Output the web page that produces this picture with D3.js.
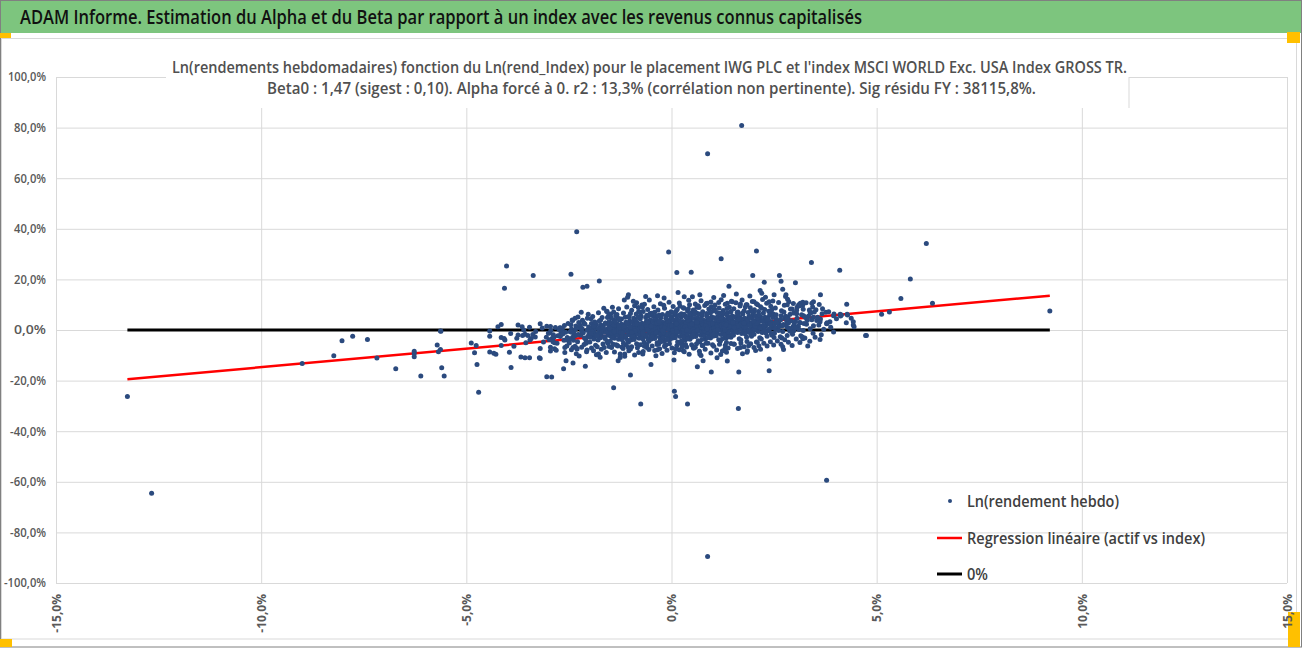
<html>
<head>
<meta charset="utf-8">
<title>ADAM Informe - Alpha et Beta</title>
<script src="https://d3js.org/d3.v7.min.js"></script>
<style>
  body { margin: 0; background: #fff; }
  text { font-family: "Open Sans", "Liberation Sans Narrow", "DejaVu Sans Condensed", sans-serif; }
</style>
</head>
<body>
<script>
// texts
var headerTitle = "ADAM Informe. Estimation du Alpha et du Beta par rapport à un index avec les revenus connus capitalisés";
var chartTitle1 = "Ln(rendements hebdomadaires) fonction du Ln(rend_Index) pour le placement IWG PLC et l'index MSCI WORLD Exc. USA Index GROSS TR.";
var chartTitle2 = "Beta0 : 1,47 (sigest : 0,10). Alpha forcé à 0. r2 : 13,3% (corrélation non pertinente). Sig résidu FY : 38115,8%.";
var legendLabels = ["Ln(rendement hebdo)", "Regression linéaire (actif vs index)", "0%"];

// axes
var xTicks = [-15, -10, -5, 0, 5, 10, 15];
var yTicks = [-100, -80, -60, -40, -20, 0, 20, 40, 60, 80, 100];

// regression slope (alpha forced to 0)
var beta0 = 1.47;

// weekly log returns, [index %, asset %]
var outliers = [
  [-13.26,-26.3],[-12.67,-64.5],[1.71,80.8],[0.88,69.7],[0.88,-89.5],[3.78,-59.4],
  [6.21,34.2],[5.82,20.2],[5.59,12.5],[6.36,10.6],[5.12,6.2],[5.31,7.1],[4.75,-2.2],[9.22,7.5],
  [-2.31,38.8],[-4.02,25.3],[-4.07,16.5],[-3.37,21.5],[-2.45,22.0],[-2.16,16.9],[-2.06,17.3],[-1.76,19.4],
  [-0.07,30.8],[0.13,22.7],[0.48,22.8],[1.21,28.2],[2.07,31.2],[1.98,21.5],[2.63,21.5],[2.67,19.3],[2.71,16.1],
  [2.26,18.9],[2.16,15.6],[2.2,14.5],[1.4,17.3],[3.02,18.7],[3.41,26.7],[4.1,23.6],[3.63,13.9],[4.27,10.2],
  [4.73,-2.2],[4.43,3.3],[4.43,2.0],[3.96,6.3],[4.12,5.5],[4.29,5.9],[3.78,2.5],[3.86,3.3],[3.2,11.0],[3.2,9.9],
  [3.1,9.6],[2.79,13.9],
  [-4.7,-24.6],[-4.74,-13.6],[-3.91,-14.8],[-3.04,-18.5],[-2.92,-18.6],[-2.63,-15.3],[-2.1,-14.3],[-1.41,-22.8],
  [-1.0,-17.8],[-0.75,-29.2],[-0.5,-13.6],[0.07,-24.2],[0.1,-26.3],[0.39,-29.2],[0.63,-14.5],[0.97,-16.6],
  [1.11,-11.0],[1.36,-12.3],[1.63,-31.0],[1.64,-16.6],[2.38,-11.5],[2.38,-16.1],[2.71,-6.6],[2.73,-7.7],[3.32,-6.3],[3.2,-3.5]
];

var farLeft = [
  [-9.0,-13.2],[-8.23,-10.2],[-8.03,-4.2],[-7.77,-2.5],[-7.41,-3.8],[-7.18,-11.1],[-6.72,-15.3],
  [-6.27,-8.4],[-6.27,-9.3],[-6.27,-10.6],[-6.11,-18.2],[-5.71,-5.9],[-5.68,-8.6],[-5.63,-7.7],[-5.62,-0.5],
  [-5.6,-14.9],[-5.54,-18.2],[-5.63,-0.4],
  [-4.88,-5.1],[-4.8,-9.0],[-4.76,-6.1],[-4.43,-8.7],[-4.33,-9.2],[-4.28,-9.6],[-4.43,-0.4],[-4.43,-2.5],
  [-4.23,1.3],[-4.15,2.2],[-4.15,-6.1],[-4.15,-3.0],[-4.08,-3.4],[-4.06,-4.0],[-3.95,-8.8],[-3.74,2.0],
  [-3.64,1.3],[-3.6,0.0],[-3.74,-2.0],[-3.57,-1.7],[-3.5,-2.2],[-3.45,-4.0],[-3.67,-10.7],[-3.57,-11.0],
  [-3.46,-11.0],[-3.42,-3.4],[-3.32,-2.8],[-3.2,2.5],[-3.22,-11.0],[-3.2,-11.3],[-3.04,1.5],[-3.0,-1.3],
  [-2.95,-8.3],[-2.95,-6.8],[-2.9,-3.7],[-2.85,-5.0],[-2.7,0.8],[-2.7,-1.8],[-2.6,-6.9],[-2.6,-8.9],
  [-2.57,-12.2],[-2.42,4.0],[-2.55,-4.0],[-2.4,-6.9],[-2.3,-7.5],[-2.4,-13.0],[-2.08,-5.2],[-2.06,-7.9],
  [-1.78,-9.5],[-1.74,-10.8],
  [-3.92,-1.4],[-3.55,-5.0],[-3.31,-0.6],[-3.77,-3.3],[-3.12,-4.7],[-3.46,1.1],[-3.2,-7.3],[-3.63,-2.2],
  [-3.05,-2.9],[-3.84,-6.4],[-3.38,-1.8],[-3.15,0.8]
];

var midScatter = [
  [-1.65,8.6],[-1.57,7.3],[-1.48,6.3],[-1.4,4.0],[-1.3,4.5],[-1.15,11.9],[-1.05,13.9],[-1.07,12.9],
  [-0.85,10.8],[-0.72,9.9],[-0.71,9.0],[-0.63,13.2],[-0.54,11.9],[-0.34,13.5],[-0.8,7.3],[-0.52,6.5],[-0.44,5.3],
  [-1.3,-12.2],[-1.25,-10.9],[-1.14,-9.5],[-1.05,-6.9],[-0.7,-9.5],[-0.6,-6.9],[-0.34,-7.8],[-0.28,-4.2],
  [0.06,-11.9],[0.31,13.1],[0.51,13.1],[0.3,8.6],[0.62,9.0],[0.87,10.6],[0.97,9.2],[0.69,-9.5],[0.77,-12.2],
  [0.53,-6.9],[0.29,-8.2],[1.3,-7.5],[1.34,-8.8],[1.52,-5.5],[1.68,-6.9],[1.84,-8.8],[1.88,-6.2],[2.07,-4.7],
  [2.13,-6.2],[2.5,-3.0],[2.82,-2.2],[2.98,-0.3],[2.82,1.0],[2.88,-0.3],[3.14,2.9],[3.3,4.3],[3.46,5.0],
  [3.63,4.3],[3.79,2.9],[3.95,5.6],[4.11,6.2],[4.28,6.2],[3.22,5.6],[3.38,7.0],[3.3,4.6],[3.06,9.0],[3.1,10.0],
  [3.14,10.6],[3.46,11.2],[3.42,10.6],[2.86,11.2],[2.82,10.0],[2.78,13.2],[2.5,13.9],[2.38,11.2],[2.1,10.0],
  [2.01,11.2],[1.84,10.0],[1.68,10.3],[1.48,11.2],[1.36,10.6],
  [-0.18,12.6],[0.16,14.8],[0.69,13.9],[1.03,12.8],[1.58,14.2],[1.91,13.4],[2.29,12.9],[-0.93,11.4],[0.42,11.8],[1.27,13.6]
];

var upperFringe = [
  [-2.41,3.8],[-2.28,5.1],[-2.14,2.9],[-2.03,6.2],[-1.96,4.4],[-1.87,3.2],[-1.78,6.8],[-1.69,4.9],[-1.61,2.7],[-1.53,5.8],
  [-2.35,4.6],[-2.2,7.0],[-1.92,5.3],[-1.73,3.9],[-1.58,7.4],
  [-1.47,4.8],[-1.41,7.1],[-1.36,5.6],[-1.29,8.4],[-1.22,4.3],[-1.17,6.7],[-1.09,9.1],[-1.03,5.2],[-0.97,7.8],[-0.92,4.6],
  [-0.86,6.3],[-0.81,8.9],[-0.74,5.5],[-0.69,7.3],[-0.63,4.9],[-0.58,8.1],[-0.53,6.0],[-1.33,6.1],[-1.13,5.0],[-0.9,9.6],
  [-0.77,6.9],[-0.6,5.8],[-1.44,9.0],[-1.0,6.5],[-0.66,10.2],
  [-0.48,6.6],[-0.43,9.2],[-0.38,5.4],[-0.33,7.9],[-0.27,10.4],[-0.22,6.1],[-0.17,8.6],[-0.12,5.7],[-0.06,11.0],[-0.01,7.2],
  [0.04,9.3],[0.09,5.9],[0.14,8.1],[0.19,10.7],[0.24,6.4],[0.29,8.8],[0.34,5.5],[0.39,7.6],[0.44,10.0],[0.49,6.8],
  [-0.41,7.0],[-0.3,5.9],[-0.19,9.8],[-0.09,6.6],[0.01,5.3],[0.11,7.4],[0.21,9.4],[0.31,6.2],[0.41,8.4],[0.46,5.2],
  [0.53,7.9],[0.58,10.3],[0.62,6.6],[0.67,8.9],[0.72,11.6],[0.76,7.2],[0.81,9.7],[0.86,6.5],[0.91,8.3],[0.96,11.1],
  [1.01,7.5],[1.06,9.9],[1.11,6.9],[1.16,8.7],[1.21,12.0],[1.26,7.7],[1.31,10.2],[1.36,6.8],[1.41,9.0],[1.46,11.4],
  [0.55,6.2],[0.65,9.6],[0.75,6.0],[0.85,10.5],[0.95,7.0],[1.05,8.2],[1.15,10.9],[1.25,6.4],[1.35,8.5],[1.45,7.3],
  [1.52,8.4],[1.57,10.8],[1.62,7.1],[1.67,9.5],[1.72,11.9],[1.77,7.6],[1.82,10.0],[1.87,6.9],[1.92,8.8],[1.97,11.3],
  [2.02,8.0],[2.07,10.4],[2.12,7.3],[2.17,9.2],[2.22,12.1],[2.27,8.1],[2.32,10.6],[2.37,7.4],[2.42,9.4],[2.47,11.5],
  [1.6,6.8],[1.8,9.1],[2.0,7.0],[2.2,8.6],[2.4,6.9],
  [2.53,8.7],[2.61,10.9],[2.68,7.6],[2.75,9.8],[2.83,12.2],[2.9,8.3],[2.97,10.5],[3.05,7.8],[3.13,9.6],[3.21,8.2],
  [3.28,10.8],[3.36,7.9],[3.44,9.1],[3.52,8.0],[3.6,10.1],[3.68,8.4],[3.76,7.0]
];

var lowerFringe = [
  [-2.44,-7.8],[-2.32,-9.4],[-2.19,-6.8],[-2.07,-8.6],[-1.95,-7.1],[-1.83,-9.8],[-1.71,-7.6],[-1.59,-8.9],[-1.52,-6.5],[-2.25,-10.3],
  [-1.9,-8.2],[-1.64,-6.9],
  [-1.46,-6.9],[-1.39,-8.7],[-1.32,-6.1],[-1.25,-9.5],[-1.18,-7.3],[-1.11,-5.9],[-1.04,-8.2],[-0.97,-6.6],[-0.9,-9.9],[-0.83,-7.0],
  [-0.76,-5.8],[-0.69,-8.5],[-0.62,-6.4],[-0.55,-7.7],[-1.42,-5.6],[-1.21,-6.7],[-1.0,-7.5],[-0.8,-8.9],[-0.6,-5.7],[-1.14,-10.4],
  [-0.47,-6.3],[-0.41,-8.1],[-0.35,-5.7],[-0.29,-7.4],[-0.23,-9.3],[-0.17,-6.5],[-0.11,-8.0],[-0.05,-5.4],[0.01,-7.1],[0.07,-9.0],
  [0.13,-6.2],[0.19,-7.8],[0.25,-5.3],[0.31,-8.6],[0.37,-6.7],[0.43,-9.6],[0.49,-5.8],[-0.38,-10.2],[-0.14,-5.9],[0.1,-7.5],[0.34,-6.0],
  [0.54,-7.2],[0.61,-5.4],[0.68,-8.4],[0.75,-6.1],[0.82,-7.6],[0.89,-5.2],[0.96,-9.1],[1.03,-6.4],[1.1,-7.9],[1.17,-5.6],
  [1.24,-8.3],[1.31,-6.0],[1.38,-7.1],[1.45,-5.3],[0.72,-10.1],[1.0,-5.8],[1.2,-9.7],[0.58,-6.8],
  [1.53,-5.6],[1.61,-7.3],[1.69,-5.1],[1.77,-6.6],[1.85,-8.2],[1.93,-5.4],[2.01,-6.9],[2.09,-4.8],[2.17,-7.6],[2.25,-5.2],
  [2.33,-6.3],[2.41,-4.6],[2.49,-5.9],[1.73,-9.4],[2.05,-8.1],
  [2.58,-4.3],[2.67,-5.6],[2.76,-3.9],[2.85,-4.8],[2.94,-6.1],[3.04,-3.6],[3.13,-4.9],[3.25,-3.2],[3.37,-4.4],[3.5,-2.9],[3.62,-3.8]
];

var core = [
  [-2.97,-1.2],[-2.62,-4.1],[-2.83,1.0],[-2.71,-2.6],[-2.94,-0.2],[-2.55,-6.3],[-2.88,-1.9],[-2.66,0.4],[-2.79,-5.2],[-2.52,2.6],
  [-2.91,-3.4],[-2.58,-0.9],[-2.85,-7.4],[-2.74,0.2],[-2.98,-3.9],[-2.61,1.8],[-2.77,-2.3],[-2.89,-4.6],[-2.54,-3.0],[-2.69,-1.0],
  [-2.95,1.4],[-2.81,-8.0],[-2.65,-1.6],[-2.72,0.9],[-2.86,-2.8],
  [-2.47,-0.7],[-2.09,-3.8],[-2.33,1.6],[-2.21,-2.1],[-2.44,0.4],[-2.13,-5.7],[-2.38,-1.3],[-2.02,1.2],[-2.29,-4.6],[-2.17,3.9],
  [-2.41,-2.9],[-2.06,-0.1],[-2.35,-6.4],[-2.24,0.9],[-2.48,-3.5],[-2.11,2.4],[-2.27,-1.8],[-2.39,-4.1],[-2.04,-2.6],[-2.19,-0.4],
  [-2.45,2.1],[-2.31,-7.2],[-2.15,-1.1],[-2.22,1.8],[-2.36,-2.4],[-2.08,-4.9],[-2.43,-0.9],[-2.26,3.0],[-2.12,-3.2],[-2.34,0.2],
  [-2.01,-1.6],[-2.49,-5.1],[-2.18,0.6],[-2.3,-2.0],[-2.05,4.6],
  [-1.97,-0.3],[-1.62,-3.4],[-1.83,2.2],[-1.71,-1.5],[-1.94,0.9],[-1.55,-5.2],[-1.88,-0.8],[-1.66,1.7],[-1.79,-4.0],[-1.52,3.3],
  [-1.91,-2.4],[-1.58,0.3],[-1.85,-6.0],[-1.74,1.2],[-1.98,-2.9],[-1.61,2.8],[-1.77,-1.2],[-1.89,-3.6],[-1.54,-2.1],[-1.69,0.1],
  [-1.95,2.6],[-1.81,-6.6],[-1.65,-0.6],[-1.72,2.0],[-1.86,-1.9],[-1.57,-4.4],[-1.93,-0.5],[-1.76,3.6],[-1.63,-2.7],[-1.84,0.7],
  [-1.51,-1.1],[-1.99,-4.7],[-1.68,1.0],[-1.8,-1.7],[-1.56,4.9],[-1.73,-3.1],[-1.9,1.5],[-1.6,-0.2],[-1.82,-2.3],[-1.53,1.9],
  [-1.96,-1.4],[-1.67,-5.5],[-1.78,0.5],[-1.59,-0.9],[-1.87,3.0],
  [-1.48,-0.1],[-1.12,-3.0],[-1.33,2.5],[-1.21,-1.2],[-1.44,1.1],[-1.05,-4.8],[-1.38,-0.5],[-1.16,2.0],[-1.29,-3.7],[-1.02,3.6],
  [-1.41,-2.0],[-1.08,0.6],[-1.35,-5.8],[-1.24,1.5],[-1.47,-2.6],[-1.11,3.1],[-1.27,-0.9],[-1.39,-3.3],[-1.04,-1.8],[-1.19,0.4],
  [-1.45,2.9],[-1.31,-6.3],[-1.15,-0.3],[-1.22,2.3],[-1.36,-1.6],[-1.07,-4.1],[-1.43,-0.2],[-1.26,4.0],[-1.13,-2.4],[-1.34,1.0],
  [-1.01,-0.8],[-1.49,-4.4],[-1.18,1.3],[-1.3,-1.4],[-1.06,5.2],[-1.23,-2.8],[-1.4,1.8],[-1.1,0.1],[-1.32,-2.0],[-1.03,2.2],
  [-1.46,-1.1],[-1.17,-5.2],[-1.28,0.8],[-1.09,-0.6],[-1.37,3.3],[-1.2,-3.9],[-1.42,0.0],[-1.14,1.6],[-1.25,-1.0],[-1.5,0.7],
  [-1.0,-2.2],[-1.34,-0.4],[-1.08,2.7],[-1.44,-3.0],[-1.19,-1.3],[-1.29,1.9],[-1.05,0.3],[-1.39,-0.7],[-1.12,-2.6],[-1.27,4.4],
  [-0.98,0.3],[-0.62,-2.6],[-0.83,2.9],[-0.71,-0.8],[-0.94,1.5],[-0.55,-4.4],[-0.88,-0.1],[-0.66,2.4],[-0.79,-3.3],[-0.52,4.0],
  [-0.91,-1.6],[-0.58,1.0],[-0.85,-5.4],[-0.74,1.9],[-0.97,-2.2],[-0.61,3.5],[-0.77,-0.5],[-0.89,-2.9],[-0.54,-1.4],[-0.69,0.8],
  [-0.95,3.3],[-0.81,-5.9],[-0.65,0.1],[-0.72,2.7],[-0.86,-1.2],[-0.57,-3.7],[-0.93,0.2],[-0.76,4.4],[-0.63,-2.0],[-0.84,1.4],
  [-0.51,-0.4],[-0.99,-4.0],[-0.68,1.7],[-0.8,-1.0],[-0.56,5.6],[-0.73,-2.4],[-0.9,2.2],[-0.6,0.5],[-0.82,-1.6],[-0.53,2.6],
  [-0.96,-0.7],[-0.67,-4.8],[-0.78,1.2],[-0.59,-0.2],[-0.87,3.7],[-0.7,-3.5],[-0.92,0.4],[-0.64,2.0],[-0.75,-0.6],[-1.0,1.1],
  [-0.5,-1.8],[-0.84,0.0],[-0.58,3.1],[-0.94,-2.6],[-0.69,-0.9],[-0.79,2.3],[-0.55,0.7],[-0.89,-0.3],[-0.62,-2.2],[-0.77,4.8],
  [-0.66,-6.4],[-0.97,-1.0],[-0.73,0.9],[-0.52,-3.1],[-0.85,2.5],[-0.6,1.4],[-0.91,-3.8],[-0.7,-1.5],[-0.57,0.2],[-0.82,5.1],
  [-0.48,0.7],[-0.12,-2.2],[-0.33,3.3],[-0.21,-0.4],[-0.44,1.9],[-0.05,-4.0],[-0.38,0.3],[-0.16,2.8],[-0.29,-2.9],[-0.02,4.4],
  [-0.41,-1.2],[-0.08,1.4],[-0.35,-5.0],[-0.24,2.3],[-0.47,-1.8],[-0.11,3.9],[-0.27,-0.1],[-0.39,-2.5],[-0.04,-1.0],[-0.19,1.2],
  [-0.45,3.7],[-0.31,-5.5],[-0.15,0.5],[-0.22,3.1],[-0.36,-0.8],[-0.07,-3.3],[-0.43,0.6],[-0.26,4.8],[-0.13,-1.6],[-0.34,1.8],
  [-0.01,0.0],[-0.49,-3.6],[-0.18,2.1],[-0.3,-0.6],[-0.06,6.0],[-0.23,-2.0],[-0.4,2.6],[-0.1,0.9],[-0.32,-1.2],[-0.03,3.0],
  [-0.46,-0.3],[-0.17,-4.4],[-0.28,1.6],[-0.09,0.2],[-0.37,4.1],[-0.2,-3.1],[-0.42,0.8],[-0.14,2.4],[-0.25,-0.2],[-0.5,1.5],
  [0.0,-1.4],[-0.34,0.4],[-0.08,3.5],[-0.44,-2.2],[-0.19,-0.5],[-0.29,2.7],[-0.05,1.1],[-0.39,0.1],[-0.12,-1.8],[-0.27,5.2],
  [-0.16,-6.0],[-0.47,-0.6],[-0.23,1.3],[-0.02,-2.7],[-0.35,2.9],[-0.1,1.8],[-0.41,-3.4],[-0.2,-1.1],[-0.07,0.6],[-0.32,5.5],
  [-0.26,-4.6],[-0.14,4.6],[-0.45,-1.5],[-0.04,2.0],[-0.37,-0.9],[-0.21,0.0],[-0.11,-3.8],[-0.3,3.4],[-0.48,-2.8],[-0.17,1.0],
  [0.02,1.0],[0.38,-1.9],[0.17,3.6],[0.29,-0.1],[0.06,2.2],[0.45,-3.7],[0.12,0.6],[0.34,3.1],[0.21,-2.6],[0.48,4.7],
  [0.09,-0.9],[0.42,1.7],[0.15,-4.7],[0.26,2.6],[0.03,-1.5],[0.39,4.2],[0.23,0.2],[0.11,-2.2],[0.46,-0.7],[0.31,1.5],
  [0.05,4.0],[0.19,-5.2],[0.35,0.8],[0.28,3.4],[0.14,-0.5],[0.43,-3.0],[0.07,0.9],[0.24,5.1],[0.37,-1.3],[0.16,2.1],
  [0.49,0.3],[0.01,-3.3],[0.32,2.4],[0.2,-0.3],[0.44,6.3],[0.27,-1.7],[0.1,2.9],[0.4,1.2],[0.18,-0.9],[0.47,3.3],
  [0.04,0.0],[0.33,-4.1],[0.22,1.9],[0.41,0.5],[0.13,4.4],[0.3,-2.8],[0.08,1.1],[0.36,2.7],[0.25,0.1],[0.0,1.8],
  [0.5,-1.1],[0.16,0.7],[0.42,3.8],[0.06,-1.9],[0.31,-0.2],[0.21,3.0],[0.45,1.4],[0.11,0.4],[0.38,-1.5],[0.23,5.5],
  [0.34,-5.7],[0.03,-0.3],[0.27,1.6],[0.48,-2.4],[0.15,3.2],[0.4,2.1],[0.09,-3.1],[0.3,-0.8],[0.43,0.9],[0.18,5.8],
  [0.24,-4.3],[0.36,4.9],[0.05,-1.2],[0.46,2.3],[0.13,-0.6],[0.29,0.3],[0.39,-3.5],[0.2,3.7],[0.02,-2.5],[0.33,1.3],
  [0.07,6.8],[0.44,-0.4],[0.26,-6.6],[0.12,2.5],[0.37,0.0],
  [0.52,1.5],[0.88,-1.4],[0.67,4.1],[0.79,0.4],[0.56,2.7],[0.95,-3.2],[0.62,1.1],[0.84,3.6],[0.71,-2.1],[0.98,5.2],
  [0.59,-0.4],[0.92,2.2],[0.65,-4.2],[0.76,3.1],[0.53,-1.0],[0.89,4.7],[0.73,0.7],[0.61,-1.7],[0.96,-0.2],[0.81,2.0],
  [0.55,4.5],[0.69,-4.7],[0.85,1.3],[0.78,3.9],[0.64,0.0],[0.93,-2.5],[0.57,1.4],[0.74,5.6],[0.87,-0.8],[0.66,2.6],
  [0.99,0.8],[0.51,-2.8],[0.82,2.9],[0.7,0.2],[0.94,6.8],[0.77,-1.2],[0.6,3.4],[0.9,1.7],[0.68,-0.4],[0.97,3.8],
  [0.54,0.5],[0.83,-3.6],[0.72,2.4],[0.91,1.0],[0.63,4.9],[0.8,-2.3],[0.58,1.6],[0.86,3.2],[0.75,0.6],[0.5,2.3],
  [1.0,-0.6],[0.66,1.2],[0.92,4.3],[0.56,-1.4],[0.81,0.3],[0.71,3.5],[0.95,1.9],[0.61,0.9],[0.88,-1.0],[0.73,6.0],
  [0.84,-5.2],[0.53,0.2],[0.77,2.1],[0.98,-1.9],[0.65,3.7],[0.9,2.6],[0.59,-2.6],[0.8,-0.3],[0.93,1.4],[0.68,6.3],
  [0.74,-3.8],[0.86,5.4],[0.55,-0.7],[0.96,2.8],[0.63,-0.1],[0.79,0.8],[0.89,-3.0],[0.7,4.2],[0.52,-2.0],[0.83,1.8],
  [0.57,7.3],[0.94,0.1],[0.76,-6.1],[0.62,3.0],[0.87,0.5],
  [1.02,1.8],[1.38,-1.1],[1.17,4.4],[1.29,0.7],[1.06,3.0],[1.45,-2.9],[1.12,1.4],[1.34,3.9],[1.21,-1.8],[1.48,5.5],
  [1.09,-0.1],[1.42,2.5],[1.15,-3.9],[1.26,3.4],[1.03,-0.7],[1.39,5.0],[1.23,1.0],[1.11,-1.4],[1.46,0.1],[1.31,2.3],
  [1.05,4.8],[1.19,-4.4],[1.35,1.6],[1.28,4.2],[1.14,0.3],[1.43,-2.2],[1.07,1.7],[1.24,5.9],[1.37,-0.5],[1.16,2.9],
  [1.49,1.1],[1.01,-2.5],[1.32,3.2],[1.2,0.5],[1.44,7.1],[1.27,-0.9],[1.1,3.7],[1.4,2.0],[1.18,-0.1],[1.47,4.1],
  [1.04,0.8],[1.33,-3.3],[1.22,2.7],[1.41,1.3],[1.13,5.2],[1.3,-2.0],[1.08,1.9],[1.36,3.5],[1.25,0.9],[1.0,2.6],
  [1.5,-0.3],[1.16,1.5],[1.42,4.6],[1.06,-1.1],[1.31,0.6],[1.21,3.8],[1.45,2.2],[1.11,1.2],[1.38,-0.7],[1.23,6.3],
  [1.34,-4.9],[1.03,0.5],[1.27,2.4],[1.48,-1.6],[1.15,4.0],[1.4,2.9],[1.09,-2.3],[1.3,0.0],[1.43,1.7],[1.18,6.6],
  [1.24,-3.5],[1.36,5.7],[1.05,-0.4],[1.46,3.1],[1.13,0.2],[1.29,1.1],[1.39,-2.7],[1.2,4.5],[1.02,-1.7],[1.33,2.1],
  [1.52,2.2],[1.88,-0.7],[1.67,4.8],[1.79,1.1],[1.56,3.4],[1.95,-2.5],[1.62,1.8],[1.84,4.3],[1.71,-1.4],[1.98,5.9],
  [1.59,0.3],[1.92,2.9],[1.65,-3.5],[1.76,3.8],[1.53,-0.3],[1.89,5.4],[1.73,1.4],[1.61,-1.0],[1.96,0.5],[1.81,2.7],
  [1.55,5.2],[1.69,-4.0],[1.85,2.0],[1.78,4.6],[1.64,0.7],[1.93,-1.8],[1.57,2.1],[1.74,6.3],[1.87,-0.1],[1.66,3.3],
  [1.99,1.5],[1.51,-2.1],[1.82,3.6],[1.7,0.9],[1.94,7.5],[1.77,-0.5],[1.6,4.1],[1.9,2.4],[1.68,0.3],[1.97,4.5],
  [1.54,1.2],[1.83,-2.9],[1.72,3.1],[1.91,1.7],[1.63,5.6],[1.8,-1.6],[1.58,2.3],[1.86,3.9],[1.75,1.3],[1.5,3.0],
  [2.0,0.1],[1.66,1.9],[1.92,5.0],[1.56,-0.7],[1.81,1.0],[1.71,4.2],[1.95,2.6],[1.61,1.6],[1.88,-0.3],[1.73,6.7],
  [1.84,-4.5],[1.53,0.9],[1.77,2.8],[1.98,-1.2],[1.65,4.4],
  [2.02,2.6],[2.38,-0.3],[2.17,5.2],[2.29,1.5],[2.06,3.8],[2.45,-2.1],[2.12,2.2],[2.34,4.7],[2.21,-1.0],[2.48,6.3],
  [2.09,0.7],[2.42,3.3],[2.15,-3.1],[2.26,4.2],[2.03,0.1],[2.39,5.8],[2.23,1.8],[2.11,-0.6],[2.46,0.9],[2.31,3.1],
  [2.05,5.6],[2.19,-3.6],[2.35,2.4],[2.28,5.0],[2.14,1.1],[2.43,-1.4],[2.07,2.5],[2.24,6.7],[2.37,0.3],[2.16,3.7],
  [2.49,1.9],[2.01,-1.7],[2.32,4.0],[2.2,1.3],[2.44,7.9],[2.27,-0.1],[2.1,4.5],[2.4,2.8],[2.18,0.7],[2.47,4.9],
  [2.04,1.6],[2.33,-2.5],[2.22,3.5],[2.41,2.1],[2.13,6.0],[2.3,-1.2],[2.08,2.7],[2.36,4.3],[2.25,1.7],[2.0,3.4],
  [2.52,3.0],[2.88,0.1],[2.67,5.6],[2.79,1.9],[2.56,4.2],[2.95,-1.7],[2.62,2.6],[2.84,5.1],[2.71,-0.6],[2.98,6.7],
  [2.59,1.1],[2.92,3.7],[2.65,-2.7],[2.76,4.6],[2.53,0.5],[2.89,6.2],[2.73,2.2],[2.61,-0.2],[2.96,1.3],[2.81,3.5],
  [2.55,6.0],[2.69,-3.2],[2.85,2.8],[2.78,5.4],[2.64,1.5],[2.93,-1.0],[2.57,2.9],[2.74,7.1],[2.87,0.7],[2.66,4.1],
  [2.99,2.3],[2.51,-1.3],[2.82,4.4],[2.7,1.7],[2.94,8.3],
  [3.02,3.4],[3.38,0.5],[3.17,6.0],[3.29,2.3],[3.06,4.6],[3.45,-1.3],[3.12,3.0],[3.34,5.5],[3.21,-0.2],[3.48,7.1],
  [3.09,1.5],[3.42,4.1],[3.15,-2.3],[3.26,5.0],[3.03,0.9],[3.39,6.6],[3.23,2.6],[3.11,0.2],[3.46,1.7],[3.31,3.9],
  [3.05,6.4],[3.19,-2.8],
  [3.54,3.8],[3.88,1.1],[3.67,6.4],[3.79,2.6],[3.56,5.0],[3.95,-0.8],[3.62,3.3],[4.14,5.9],[3.71,0.3],[4.38,4.6],
  [3.59,2.0],[4.02,4.4],[3.65,-1.9],[4.26,2.9],[3.83,7.2],[4.45,1.3]
];

var points = outliers.concat(farLeft, midScatter, upperFringe, lowerFringe, core);

var W = 1302, H = 648;
var x = d3.scaleLinear().domain([-15, 15]).range([56, 1287]);
var y = d3.scaleLinear().domain([-100, 100]).range([583, 77]);
var pct = function (d) { return d.toFixed(1).replace(".", ",") + "%"; };

var svg = d3.select("body").append("svg").attr("width", W).attr("height", H);

svg.append("rect").attr("width", W).attr("height", H).attr("fill", "#fff");

// header band
svg.append("rect").attr("x", 0).attr("y", 1).attr("width", W).attr("height", 32).attr("fill", "#7dc57e");
svg.append("text").attr("x", 20).attr("y", 24)
    .attr("font-size", 20).attr("font-weight", 600).attr("fill", "#111")
    .attr("textLength", 842).attr("lengthAdjust", "spacingAndGlyphs")
    .text(headerTitle);

// chart area border
svg.append("rect").attr("x", 1.5).attr("y", 38.5).attr("width", 1295).attr("height", 600.5)
    .attr("fill", "none").attr("stroke", "#d9d9d9");

// frame and little yellow handles (under the axis labels)
svg.append("rect").attr("x", 0.5).attr("y", 0.5).attr("width", W - 1).attr("height", H - 1.5)
    .attr("fill", "none").attr("stroke", "#808080");
svg.append("rect").attr("x", 0).attr("y", 33).attr("width", 11).attr("height", 5).attr("fill", "#ffc000");
svg.append("rect").attr("x", 1287).attr("y", 32).attr("width", 13).attr("height", 11).attr("fill", "#ffc000");
svg.append("rect").attr("x", 0).attr("y", 639).attr("width", 12).attr("height", 8).attr("fill", "#ffc000");
svg.append("rect").attr("x", 1288).attr("y", 612).attr("width", 12).attr("height", 35).attr("fill", "#ffc000");

// grid + y axis
var yAxis = svg.append("g").attr("transform", "translate(56,0)")
    .call(d3.axisLeft(y).tickValues(yTicks).tickSize(-(1287 - 56)).tickFormat(pct));
var xAxis = svg.append("g").attr("transform", "translate(0,583)")
    .call(d3.axisBottom(x).tickValues(xTicks).tickSize(-(583 - 77)).tickFormat(pct));

[yAxis, xAxis].forEach(function (g) {
    g.select(".domain").remove();
    g.selectAll(".tick line").attr("stroke", "#d9d9d9");
    g.selectAll(".tick text").attr("fill", "#595959");
});
yAxis.selectAll(".tick text").attr("x", -10)
    .attr("font-family", "Open Sans, sans-serif").attr("font-size", 12).attr("font-weight", 600)
    .attr("textLength", function (d) { return d === 100 ? 38 : (d < 0 ? (d === -100 ? 42 : 36) : 32); })
    .attr("lengthAdjust", "spacingAndGlyphs");
xAxis.selectAll(".tick text")
    .attr("transform", "rotate(-90)")
    .attr("x", -11).attr("y", 0).attr("dy", "0.35em")
    .attr("text-anchor", "end")
    .attr("font-family", "DejaVu Sans, sans-serif").attr("font-size", 12).attr("font-weight", "bold");

// chart title, sitting on a white box over the grid
svg.append("rect").attr("x", 166).attr("y", 50).attr("width", 963).attr("height", 58).attr("fill", "#fff");
svg.append("line").attr("x1", 1129).attr("x2", 1129).attr("y1", 77).attr("y2", 108).attr("stroke", "#d9d9d9");
svg.append("text").attr("x", 172).attr("y", 73)
    .attr("font-size", 15.5).attr("font-weight", 600).attr("fill", "#505050")
    .attr("textLength", 955).attr("lengthAdjust", "spacingAndGlyphs")
    .text(chartTitle1);
svg.append("text").attr("x", 267).attr("y", 94)
    .attr("font-size", 15.5).attr("font-weight", 600).attr("fill", "#505050")
    .attr("textLength", 769).attr("lengthAdjust", "spacingAndGlyphs")
    .text(chartTitle2);

// 0% line and regression line across the data range
var xr = d3.extent(points, function (d) { return d[0]; });
var line = d3.line().x(function (d) { return x(d[0]); }).y(function (d) { return y(d[1]); });

svg.append("path").datum(xr.map(function (v) { return [v, 0]; }))
    .attr("d", line).attr("fill", "none").attr("stroke", "#000").attr("stroke-width", 3);
svg.append("path").datum(xr.map(function (v) { return [v, beta0 * v]; }))
    .attr("d", line).attr("fill", "none").attr("stroke", "#ff0000").attr("stroke-width", 2.5);

// scatter
svg.append("g").selectAll("circle")
    .data(points)
    .enter()
    .append("circle")
    .attr("cx", function (d) { return x(d[0]); })
    .attr("cy", function (d) { return y(d[1]); })
    .attr("r", 2.5)
    .attr("fill", "#2b4a7e");

// legend
var legend = svg.append("g");
var legendY = [501, 538, 574];
var legendW = [152, 238, 21];
legend.append("circle").attr("cx", 950).attr("cy", legendY[0]).attr("r", 2).attr("fill", "#2b4a7e");
legend.append("line").attr("x1", 937).attr("x2", 962).attr("y1", legendY[1]).attr("y2", legendY[1])
    .attr("stroke", "#ff0000").attr("stroke-width", 2.5);
legend.append("line").attr("x1", 937).attr("x2", 962).attr("y1", legendY[2]).attr("y2", legendY[2])
    .attr("stroke", "#000").attr("stroke-width", 3);
legend.selectAll("text").data(legendLabels).enter().append("text")
    .attr("x", 967)
    .attr("y", function (d, i) { return legendY[i] + 6; })
    .attr("font-size", 16.5).attr("font-weight", 600).attr("fill", "#404040")
    .attr("textLength", function (d, i) { return legendW[i]; })
    .attr("lengthAdjust", "spacingAndGlyphs")
    .text(function (d) { return d; });
</script>
</body>
</html>
